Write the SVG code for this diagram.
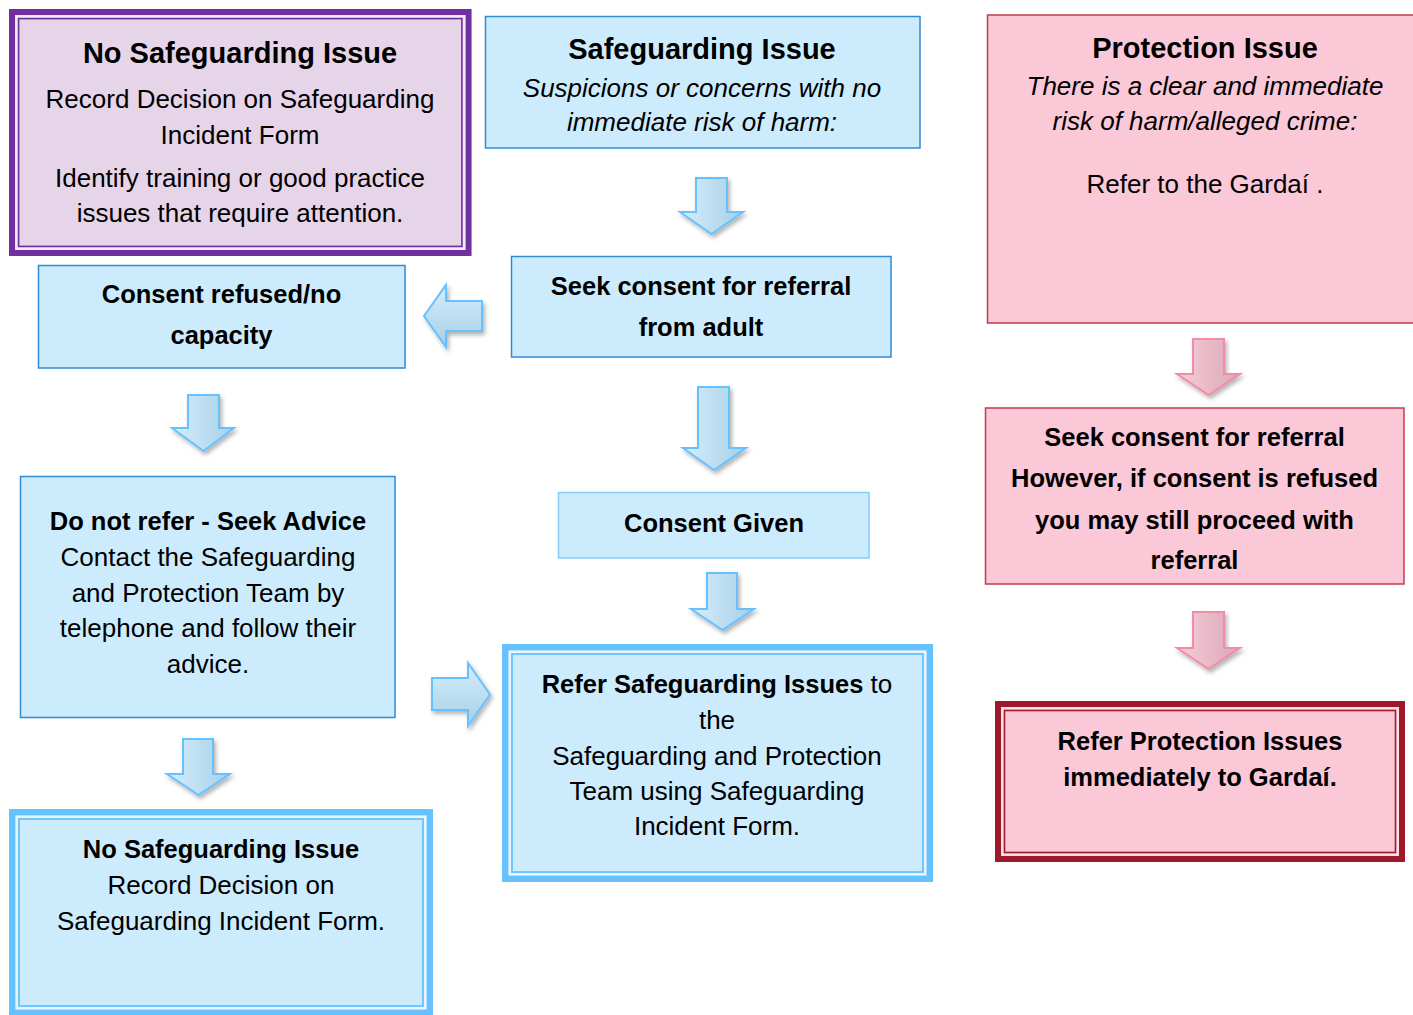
<svg xmlns="http://www.w3.org/2000/svg" width="1413" height="1015" viewBox="0 0 1413 1015">
<defs>
<style>
text{font-family:"Liberation Sans",Arial,sans-serif;fill:#000;text-anchor:middle}
.t{font-size:29px;font-weight:bold}
.r{font-size:26px}
.i{font-size:26px;font-style:italic}
.b{font-size:25.5px;font-weight:bold}
.blue{fill:#CCECFD;stroke:#2E8CD6;stroke-width:1.5}
.pink{fill:#FAC8D7;stroke:#C43A4E;stroke-width:1.5}
.ba{fill:url(#gh);stroke:#66C2FF;stroke-width:2;filter:url(#sh)}
.bav{fill:url(#gv);stroke:#66C2FF;stroke-width:2;filter:url(#sh)}
.pa{fill:url(#gp);stroke:#F08CA6;stroke-width:2;filter:url(#sh)}
</style>
<linearGradient id="gh" x1="0" y1="0" x2="1" y2="0"><stop offset="0" stop-color="#D6EEFC"/><stop offset="1" stop-color="#A6CFE6"/></linearGradient>
<linearGradient id="gv" x1="0" y1="0" x2="0" y2="1"><stop offset="0" stop-color="#D6EEFC"/><stop offset="1" stop-color="#A6CFE6"/></linearGradient>
<linearGradient id="gp" x1="0" y1="0" x2="1" y2="0"><stop offset="0" stop-color="#F7CCD8"/><stop offset="1" stop-color="#D9A8B8"/></linearGradient>
<filter id="sh" x="-30%" y="-30%" width="160%" height="160%"><feDropShadow dx="2" dy="3" stdDeviation="2" flood-color="#000" flood-opacity="0.3"/></filter>
</defs>

<g id="n-no-safeguarding-top">
<rect x="9" y="9" width="462.5" height="247" fill="#E6D4E8"/>
<rect x="12" y="12" width="456.5" height="241" fill="none" stroke="#7030A0" stroke-width="6"/>
<rect x="16.3" y="16.3" width="447.9" height="232.4" fill="none" stroke="#F4ECF6" stroke-width="2.2"/>
<rect x="18.6" y="18.6" width="443.3" height="227.8" fill="none" stroke="#7030A0" stroke-width="1.6"/>
<text class="t" x="240" y="63">No Safeguarding Issue</text>
<text class="r" x="240" y="108">Record Decision on Safeguarding</text>
<text class="r" x="240" y="144">Incident Form</text>
<text class="r" x="240" y="187">Identify training or good practice</text>
<text class="r" x="240" y="222">issues that require attention.</text>
</g>

<g id="n-safeguarding-issue">
<rect class="blue" x="485.5" y="16.5" width="434.5" height="131.5"/>
<text class="t" x="702" y="59">Safeguarding Issue</text>
<text class="i" x="702" y="97">Suspicions or concerns with no</text>
<text class="i" x="702" y="131">immediate risk of harm:</text>
</g>

<g id="n-protection-issue">
<rect class="pink" x="987.5" y="15" width="440" height="308"/>
<text class="t" x="1205" y="58">Protection Issue</text>
<text class="i" x="1205" y="95">There is a clear and immediate</text>
<text class="i" x="1205" y="130">risk of harm/alleged crime:</text>
<text class="r" x="1205" y="193">Refer to the Gardaí .</text>
</g>

<g id="n-consent-refused">
<rect class="blue" x="38.5" y="265.5" width="366.5" height="102.5"/>
<text class="b" x="221.5" y="303">Consent refused/no</text>
<text class="b" x="221.5" y="344">capacity</text>
</g>

<g id="n-seek-consent">
<rect class="blue" x="511.5" y="256.5" width="379.5" height="100.5"/>
<text class="b" x="701" y="295">Seek consent for referral</text>
<text class="b" x="701" y="336">from adult</text>
</g>

<g id="n-do-not-refer">
<rect class="blue" x="20.5" y="476.5" width="374.5" height="241"/>
<text class="b" x="208" y="530">Do not refer - Seek Advice</text>
<text class="r" x="208" y="566">Contact the Safeguarding</text>
<text class="r" x="208" y="602">and Protection Team by</text>
<text class="r" x="208" y="637">telephone and follow their</text>
<text class="r" x="208" y="673">advice.</text>
</g>

<g id="n-consent-given">
<rect x="558.5" y="492.5" width="310.5" height="65.5" fill="#CCECFD" stroke="#86CDF5" stroke-width="1.5"/>
<text class="b" x="714" y="532">Consent Given</text>
</g>

<g id="n-refer-safeguarding">
<rect x="502" y="644" width="431" height="238" fill="#CCECFD"/>
<rect x="505.3" y="647.3" width="424.4" height="231.4" fill="none" stroke="#66C2FF" stroke-width="6.6"/>
<rect x="509.8" y="651.8" width="415.4" height="222.4" fill="none" stroke="#E6F5FF" stroke-width="2.4"/>
<rect x="512" y="654" width="411" height="218" fill="none" stroke="#66C2FF" stroke-width="1.8"/>
<text class="r" x="717" y="693"><tspan font-weight="bold" font-size="25.5">Refer Safeguarding Issues</tspan> to</text>
<text class="r" x="717" y="729">the</text>
<text class="r" x="717" y="765">Safeguarding and Protection</text>
<text class="r" x="717" y="800">Team using Safeguarding</text>
<text class="r" x="717" y="835">Incident Form.</text>
</g>

<g id="n-no-safeguarding-bottom">
<rect x="9" y="809" width="424" height="210" fill="#CCECFD"/>
<rect x="12.3" y="812.3" width="417.4" height="200.4" fill="none" stroke="#66C2FF" stroke-width="6.6"/>
<rect x="16.8" y="816.8" width="408.4" height="191.4" fill="none" stroke="#E6F5FF" stroke-width="2.4"/>
<rect x="19" y="819" width="404" height="187" fill="none" stroke="#66C2FF" stroke-width="1.8"/>
<text class="b" x="221" y="858">No Safeguarding Issue</text>
<text class="r" x="221" y="894">Record Decision on</text>
<text class="r" x="221" y="930">Safeguarding Incident Form.</text>
</g>

<g id="n-seek-consent-protection">
<rect class="pink" x="985.5" y="408" width="418.5" height="176"/>
<text class="b" x="1194.5" y="446">Seek consent for referral</text>
<text class="b" x="1194.5" y="487">However, if consent is refused</text>
<text class="b" x="1194.5" y="529">you may still proceed with</text>
<text class="b" x="1194.5" y="569">referral</text>
</g>

<g id="n-refer-protection">
<rect x="995" y="701" width="410" height="161" fill="#FAC8D7"/>
<rect x="998" y="704" width="404" height="155" fill="none" stroke="#9E1A2B" stroke-width="6"/>
<rect x="1002.3" y="708.3" width="395.4" height="146.4" fill="none" stroke="#FBE3EA" stroke-width="2.2"/>
<rect x="1004.5" y="710.5" width="391" height="142" fill="none" stroke="#9E1A2B" stroke-width="1.6"/>
<text class="b" x="1200" y="750">Refer Protection Issues</text>
<text class="b" x="1200" y="786">immediately to Gardaí.</text>
</g>

<g id="connectors">
<path class="ba" d="M696,178 H727 V212 H743 L711.5,234 L680,212 H696 Z"/>
<path class="bav" d="M482,301 V331 H446 V347 L424,316 L446,285 V301 Z"/>
<path class="ba" d="M188,395 H219 V428 H234 L203.5,451 L172,428 H188 Z"/>
<path class="ba" d="M698,387 H729 V448 H746 L714,470 L683,448 H698 Z"/>
<path class="ba" d="M707,573 H737 V609 H754 L722.5,630 L691,609 H707 Z"/>
<path class="bav" d="M432,678 H468 V663 L490,694.5 L468,726 V710 H432 Z"/>
<path class="ba" d="M183,739 H213 V774 H230 L198.5,795 L167,774 H183 Z"/>
<path class="pa" d="M1193,339 H1224 V374 H1240 L1208.5,395 L1177,374 H1193 Z"/>
<path class="pa" d="M1193,612 H1224 V648 H1240 L1208.5,669 L1177,648 H1193 Z"/>
</g>
</svg>
